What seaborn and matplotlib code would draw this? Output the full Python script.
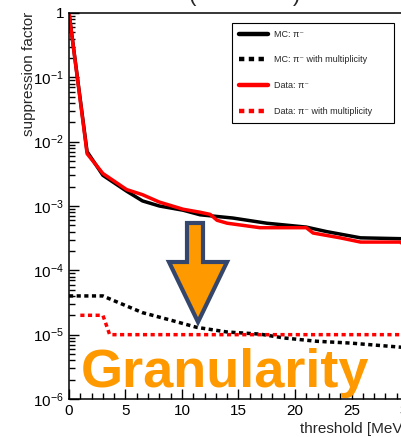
import numpy as np
import pandas as pd
import matplotlib
matplotlib.use("Agg")
import matplotlib.pyplot as plt
import seaborn as sns
from matplotlib.lines import Line2D
from matplotlib.patches import Polygon
from matplotlib.ticker import FixedLocator, MultipleLocator, LogLocator, NullFormatter

# ---------------- data ----------------
mc_x = [0, 1.6, 3.0, 5.1, 6.5, 8.0, 10.1, 11.6, 14.5, 17.5, 21, 22.8, 25.8, 29.5, 35]
mc_y = [1, 7e-3, 3.0e-3, 1.7e-3, 1.2e-3, 1.0e-3, 8.6e-4, 7.3e-4, 6.5e-4, 5.4e-4,
        4.7e-4, 4.0e-4, 3.2e-4, 3.1e-4, 3.0e-4]

data_x = [0, 1.6, 3.0, 5.1, 6.5, 8.0, 10.1, 11.6, 12.5, 13.1, 14, 16.9, 21, 21.6,
          24, 25.8, 29.3, 29.6, 35]
data_y = [1, 6.5e-3, 3.2e-3, 1.8e-3, 1.5e-3, 1.15e-3, 8.9e-4, 8e-4, 7.4e-4, 6e-4,
          5.4e-4, 4.6e-4, 4.6e-4, 3.8e-4, 3.2e-4, 2.75e-4, 2.75e-4, 2.55e-4, 2.55e-4]

mc_mult_x = [0, 3, 3.6, 6.5, 8.9, 11.3, 14, 16.9, 19, 21.9, 24.9, 29.3, 35]
mc_mult_y = [4e-5, 4e-5, 3.6e-5, 2.2e-5, 1.7e-5, 1.3e-5, 1.1e-5, 1.02e-5, 8.9e-6,
             7.9e-6, 7.4e-6, 6.4e-6, 5.8e-6]

data_mult_x = [1, 3, 3.6, 35]
data_mult_y = [2e-5, 2e-5, 1e-5, 1e-5]

series_names = ["MC: π⁻", "MC: π⁻ with multiplicity", "Data: π⁻", "Data: π⁻ with multiplicity"]
x_ticks = [0, 5, 10, 15, 20, 25, 30, 35]
x_tick_labels = ["0", "5", "10", "15", "20", "25", "30", "35"]
y_ticks = [1e-6, 1e-5, 1e-4, 1e-3, 1e-2, 1e-1, 1]
y_tick_labels = [r"$10^{-6}$", r"$10^{-5}$", r"$10^{-4}$", r"$10^{-3}$",
                 r"$10^{-2}$", r"$10^{-1}$", "1"]

# ---------------- style ----------------
sns.set_theme(style="white")
plt.rcParams["font.family"] = ["Liberation Sans", "DejaVu Sans"]
plt.rcParams["mathtext.fontset"] = "custom"
plt.rcParams["mathtext.rm"] = "Liberation Sans"
plt.rcParams["mathtext.it"] = "Liberation Sans:italic"
plt.rcParams["mathtext.bf"] = "Liberation Sans:bold"
plt.rcParams["mathtext.default"] = "regular"

colors = {series_names[0]: "black", series_names[1]: "black",
          series_names[2]: "#ff0000", series_names[3]: "#ff0000"}
dash_pat = (1.2, 1.0)
dashes = {series_names[0]: "", series_names[1]: dash_pat,
          series_names[2]: "", series_names[3]: dash_pat}

frames = []
for name, xs, ys in zip(series_names,
                        [mc_x, mc_mult_x, data_x, data_mult_x],
                        [mc_y, mc_mult_y, data_y, data_mult_y]):
    frames.append(pd.DataFrame({"threshold": xs, "factor": ys, "series": name}))
df = pd.concat(frames, ignore_index=True)

W, H = 402, 437
fig = plt.figure(figsize=(W / 100, H / 100), dpi=100)
ax_l, ax_r, ax_t, ax_b = 69, 464.5, 13, 399
ax = fig.add_axes([ax_l / W, 1 - ax_b / H, (ax_r - ax_l) / W, (ax_b - ax_t) / H])

sns.lineplot(data=df, x="threshold", y="factor", hue="series", style="series",
             hue_order=series_names, style_order=series_names,
             palette=colors, dashes=dashes, linewidth=2.5, estimator=None,
             sort=False, legend=False, ax=ax)
for ln in ax.get_lines():
    ln.set_dash_capstyle("butt")
    ln.set_solid_joinstyle("round")

ax.set_yscale("log")
ax.set_xlim(0, 35)
ax.set_ylim(1e-6, 1)

ax.xaxis.set_major_locator(FixedLocator(x_ticks))
ax.set_xticklabels(x_tick_labels)
ax.xaxis.set_minor_locator(MultipleLocator(1))
ax.yaxis.set_major_locator(FixedLocator(y_ticks))
ax.set_yticklabels(y_tick_labels)
ax.yaxis.set_minor_locator(LogLocator(base=10, subs=np.arange(2, 10)))
ax.yaxis.set_minor_formatter(NullFormatter())

ax.tick_params(which="both", direction="in", colors="black", width=1.0,
               labelsize=11, top=False, right=False, left=True, bottom=True)
ax.tick_params(which="major", length=7.5, pad=3.5)
ax.tick_params(which="minor", length=4.5)
for s in ["left", "bottom", "top"]:
    ax.spines[s].set_color("black")
    ax.spines[s].set_linewidth(1.1)
ax.spines["right"].set_visible(False)

ax.set_ylabel("suppression factor", fontsize=11, loc="top")
ax.yaxis.set_label_coords((36 - ax_l) / (ax_r - ax_l), (ax_b - 12) / (ax_b - ax_t))
ax.set_xlabel("threshold [MeV]", fontsize=11, ha="left")
ax.xaxis.set_label_coords((300 - ax_l) / (ax_r - ax_l), (ax_b - 422) / (ax_b - ax_t))

# legend
handles = [Line2D([], [], color=colors[n], lw=3.2,
                  linestyle=("-" if dashes[n] == "" else (0, dash_pat)),
                  dash_capstyle="butt") for n in series_names]
leg = ax.legend(handles, series_names, loc="upper left",
                bbox_to_anchor=(232 / W, 1 - 125 / H, 162 / W, 102 / H),
                bbox_transform=fig.transFigure, mode="expand",
                fontsize=6.5, frameon=True, fancybox=False, edgecolor="black",
                framealpha=1, borderaxespad=0, borderpad=0.75,
                handlelength=3.2, handletextpad=0.67, labelspacing=1.85)
leg.get_frame().set_linewidth(0.8)

# arrow annotation (pixel geometry of the overlay)
arrow_px = [(187, 223), (203, 223), (203, 262), (227, 262), (198, 322),
            (169, 262), (187, 262)]
arrow_ax = [((px - ax_l) / (ax_r - ax_l), (ax_b - py) / (ax_b - ax_t)) for px, py in arrow_px]
ax.add_patch(Polygon(arrow_ax, closed=True, transform=ax.transAxes,
                     facecolor="#ff9900", edgecolor="#34466b", linewidth=3.0,
                     joinstyle="miter", zorder=10, clip_on=False))

fig.text(81 / W, (H - 387) / H, "Granularity", fontsize=39, fontweight="bold",
         color="#ff9900", va="baseline", ha="left", zorder=20)

# clipped title parentheses at the very top
fig.text(192 / W, (H - 6) / H, "(", fontsize=16, ha="center", va="bottom")
fig.text(297 / W, (H - 6) / H, ")", fontsize=16, ha="center", va="bottom")

fig.savefig("out.png", dpi=100)
